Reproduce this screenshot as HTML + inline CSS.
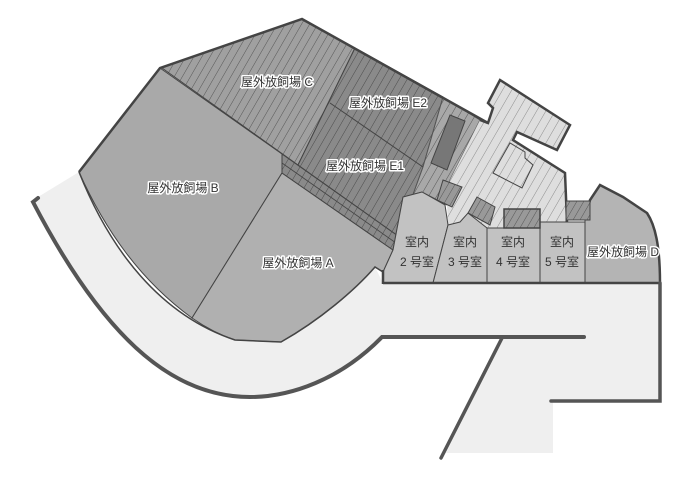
<!DOCTYPE html>
<html><head><meta charset="utf-8"><style>
html,body{margin:0;padding:0;background:#fff;}
svg{display:block}
text{font-family:"Liberation Sans","Noto Sans CJK JP",sans-serif;font-size:12px;fill:#333;}
.lb{paint-order:stroke;stroke:#fff;stroke-width:3px;stroke-linejoin:round;}
</style></head><body>
<svg width="700" height="480" viewBox="0 0 700 480" xmlns="http://www.w3.org/2000/svg">
<defs>
<pattern id="hc" width="7" height="7" patternUnits="userSpaceOnUse" patternTransform="rotate(30)">
<rect width="7" height="7" fill="#a0a0a0"/><line x1="0" y1="0" x2="0" y2="7" stroke="#555" stroke-width="1"/></pattern>
<pattern id="he" width="7" height="7" patternUnits="userSpaceOnUse" patternTransform="rotate(30)">
<rect width="7" height="7" fill="#8a8a8a"/><line x1="0" y1="0" x2="0" y2="7" stroke="#4a4a4a" stroke-width="1"/></pattern>
<pattern id="hs" width="7" height="7" patternUnits="userSpaceOnUse" patternTransform="rotate(30)">
<rect width="7" height="7" fill="#a8a8a8"/><line x1="0" y1="0" x2="0" y2="7" stroke="#555" stroke-width="1"/></pattern>
<pattern id="hl" width="8" height="8" patternUnits="userSpaceOnUse" patternTransform="rotate(30)">
<rect width="8" height="8" fill="#dedede"/><line x1="0" y1="0" x2="0" y2="8" stroke="#777" stroke-width="0.8"/></pattern>
<pattern id="hq" width="6" height="6" patternUnits="userSpaceOnUse" patternTransform="rotate(30)">
<rect width="6" height="6" fill="#999"/><line x1="0" y1="0" x2="0" y2="6" stroke="#555" stroke-width="1"/></pattern>
</defs>

<!-- walkway -->
<path d="M38,197 L79,172 C110,250 160,315 235,340 L281,342 C320,320 355,290 375,267 L383,283 L660,283 L660,400 L553,400 L553,453 L446,453 L502,337 L382,337 C340,380 290,397 250,397 C180,397 110,350 33,205 Z" fill="#efefef"/>

<!-- B -->
<path d="M160,68 L282,154 L282,173 L192,318 C140,280 105,230 79,172 Z" fill="#a9a9a9" stroke="#444" stroke-width="1"/>
<!-- A -->
<path d="M282,173 L393,250 L383,272 L375,267 C355,290 320,320 281,342 L235,340 C220,335 205,327 192,318 Z" fill="#b0b0b0" stroke="#444" stroke-width="1"/>
<!-- C -->
<path d="M162,68 L302,19 L355,48 L298,165 Z" fill="url(#hc)" stroke="#444" stroke-width="1"/>
<!-- E -->
<path d="M355,48 L443,97 L423,167 L398,236 L298,165 Z" fill="url(#he)" stroke="#444" stroke-width="1"/>
<line x1="330" y1="103" x2="423" y2="167" stroke="#444" stroke-width="1"/>
<!-- band -->
<path d="M282,154 L398,236 L393,250 L282,173 Z" fill="url(#he)" stroke="#444" stroke-width="1"/>
<line x1="282" y1="163" x2="396" y2="243" stroke="#444" stroke-width="0.8"/>
<!-- strip -->
<path d="M443,97 L480,120 L450,180 L447,205 L422,192 L403,197 L393,250 L398,236 L423,167 Z" fill="url(#hs)" stroke="#555" stroke-width="1"/>
<path d="M450,115 L465,121 L447,170 L431,163 Z" fill="#777" stroke="#444" stroke-width="1"/>
<!-- light building -->
<path d="M488,123 L493,108 L488,103 L500,80 L570,125 L557,150 L517,132 L513,140 L565,173 L567,222 L540,222 L540,228 L487,228 L468,213 L460,222 L448,225 L447,205 L450,180 L480,120 Z" fill="url(#hl)" stroke="none"/>
<path d="M480,120 L488,123 L493,108 L488,103 L500,80 L570,125 L557,150 L517,132 L513,140 L565,173 L567,222" fill="none" stroke="#444" stroke-width="2.5" stroke-linejoin="miter"/>
<path d="M493,173 L510,143 L525,152 L525,158 L533,165 L522,188 Z" fill="none" stroke="#444" stroke-width="1"/>
<!-- outer top edge -->
<path d="M79,172 L160,68 L302,19 L488,123" fill="none" stroke="#444" stroke-width="2.5"/>
<!-- rooms -->
<path d="M393,250 L403,197 L422,192 L445,205 L448,225 L433,283 L383,283 L383,272 Z" fill="#c2c2c2" stroke="#444" stroke-width="1"/>
<path d="M448,225 L460,222 L468,213 L487,228 L487,283 L433,283 Z" fill="#c2c2c2" stroke="#444" stroke-width="1"/>
<rect x="487" y="228" width="53" height="55" fill="#c2c2c2" stroke="#444" stroke-width="1"/>
<rect x="540" y="222" width="45" height="61" fill="#c2c2c2" stroke="#444" stroke-width="1"/>
<path d="M585,283 L585,220 L590,200 L600,185 L623,197 L647,213 C655,225 660,245 660,283 Z" fill="#b4b4b4" stroke="#444" stroke-width="1"/>
<path d="M585,220 L590,200 L600,185 L623,197 L647,213 C655,225 660,245 660,283" fill="none" stroke="#444" stroke-width="2.5"/>
<!-- small squares -->
<path d="M443,180 L462,187 L452,207 L437,200 Z" fill="url(#hq)" stroke="#444" stroke-width="1"/>
<path d="M477,197 L495,207 L490,225 L468,213 Z" fill="url(#hq)" stroke="#444" stroke-width="1"/>
<rect x="504" y="209" width="36" height="19" fill="url(#hq)" stroke="#444" stroke-width="1.5"/>
<rect x="566" y="201" width="24" height="19" fill="url(#hq)" stroke="#444" stroke-width="1"/>
<!-- room row bottom -->
<line x1="383" y1="283" x2="661" y2="283" stroke="#444" stroke-width="2.5"/>
<line x1="383" y1="270" x2="383" y2="284" stroke="#444" stroke-width="2.5"/>
<!-- walkway lines -->
<path d="M38,198 L33,202 C110,350 180,397 250,397 C290,397 340,380 382,337 L584,337" fill="none" stroke="#555" stroke-width="4" stroke-linecap="round"/>
<line x1="502" y1="338" x2="441" y2="458" stroke="#555" stroke-width="3.5" stroke-linecap="round"/>
<path d="M660,283 L660,401 L551,401" fill="none" stroke="#555" stroke-width="3.5" stroke-linecap="round"/>
<path d="M79,172 C110,250 160,315 235,340 L281,342 C320,320 355,290 375,267 L383,272" fill="none" stroke="#444" stroke-width="1.5"/>

<!-- labels -->
<text class="lb" x="277" y="86" text-anchor="middle">屋外放飼場 C</text>
<text class="lb" x="388" y="107" text-anchor="middle">屋外放飼場 E2</text>
<text class="lb" x="365" y="170" text-anchor="middle">屋外放飼場 E1</text>
<text class="lb" x="183" y="192" text-anchor="middle">屋外放飼場 B</text>
<text class="lb" x="298" y="267" text-anchor="middle">屋外放飼場 A</text>
<text class="lb" x="623" y="256" text-anchor="middle">屋外放飼場 D</text>
<text x="417" y="246" text-anchor="middle">室内</text><text x="417" y="266" text-anchor="middle">2 号室</text>
<text x="465" y="246" text-anchor="middle">室内</text><text x="465" y="266" text-anchor="middle">3 号室</text>
<text x="513" y="246" text-anchor="middle">室内</text><text x="513" y="266" text-anchor="middle">4 号室</text>
<text x="562" y="246" text-anchor="middle">室内</text><text x="562" y="266" text-anchor="middle">5 号室</text>
</svg>
</body></html>
